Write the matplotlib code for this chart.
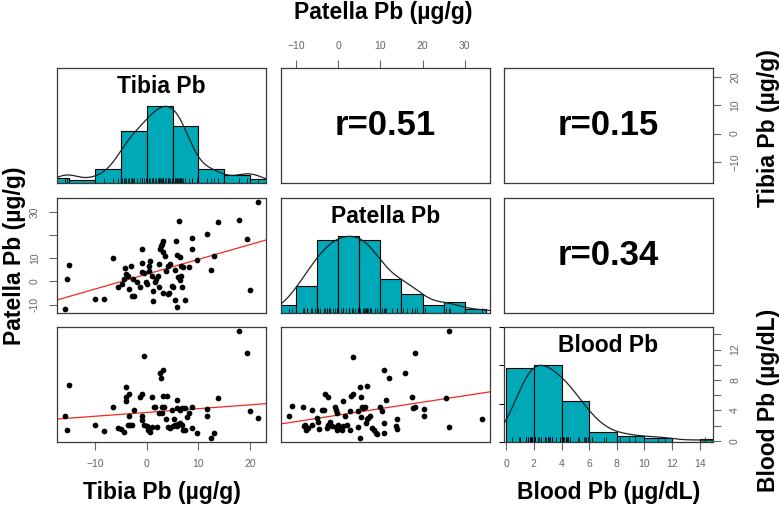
import numpy as np
import matplotlib
matplotlib.use("Agg")
import matplotlib.pyplot as plt

plt.rcParams['font.family'] = ['Liberation Sans', 'DejaVu Sans']

# ---------------- data ----------------
# Tibia vs Patella scatter (row 2, col 1)
tibia_tp = [-15.9, -15.5, -15.0, -10.1, -8.3, -6.5, -5.5, -4.8, -4.5, -4.2, -4.0, -3.7, -3.1, -3.4,
            -2.8, -2.4, -2.7, -1.9, -1.4, -1.0, -1.0, -1.0, -0.6, -0.1, 0.1, 0.4, 0.5, 0.6, 1.0, 1.2,
            1.2, 1.5, 1.8, 2.1, 2.3, 2.4, 2.5, 2.7, 2.9, 3.1, 3.2, 3.5, 3.2, 3.7, 4.1, 4.2, 4.3, 4.5,
            4.8, 5.0, 5.4, 5.5, 5.7, 5.8, 5.9, 6.3, 6.5, 6.1, 6.5, 6.6, 6.8, 6.6, 7.0, 7.5, 8.1, 8.8,
            8.8, 9.7, 11.6, 12.5, 13.1, 13.8, 17.8, 19.5, 20.0, 21.6]
patella_tp = [-11.8, 1.0, 7.1, -7.4, -7.4, 10.0, -2.6, -0.9, 1.0, 5.8, 3.2, 2.5, 6.6, -3.2,
              -6.2, -6.5, 1.0, -0.1, -2.3, 14.0, 7.8, 3.9, 3.5, -0.4, -1.2, 4.6, 6.5, 8.7, 2.5, -4.3,
              -8.4, -0.4, 1.0, 2.5, 7.5, -2.6, 14.0, 15.4, 16.2, 17.6, 12.8, 11.1, -4.8, 4.6, -5.5, 6.8,
              -4.8, 7.5, -1.9, -2.6, -8.1, 4.9, 17.6, 11.4, -11.0, 26.3, 10.4, 1.7, 0.6, 2.5, -2.2, 6.8,
              6.1, -8.1, 6.3, 18.6, 13.9, 9.2, 20.5, 5.1, 10.8, 25.5, 26.6, 18.3, -3.5, 34.2]

# Tibia vs Blood scatter (row 3, col 1)
tibia_tb = [-15.9, -15.5, -15.0, -10.1, -8.3, -6.5, -5.5, -5.0, -4.5, -4.1, -4.0, -4.0, -3.5, -3.4,
            -3.7, -3.2, -2.9, -2.4, -1.4, -1.0, -1.0, -0.6, -1.0, -0.5, 0.0, 0.3, 0.6, 1.0, 1.0, 1.3,
            1.6, 1.9, 2.3, 2.6, 2.8, 3.1, 2.9, 2.9, 3.2, 3.4, 3.9, 3.7, 4.2, 4.5, 4.8, 5.0, 5.3, 5.5,
            5.8, 5.8, 5.9, 6.1, 6.5, 6.5, 6.8, 6.8, 7.1, 7.4, 7.5, 7.7, 8.1, 8.7, 8.7, 9.7, 11.6, 11.6,
            12.5, 13.1, 13.8, 17.8, 19.5, 20.0, 21.6]
blood_tb = [3.3, 1.4, 7.3, 2.1, 1.3, 4.5, 1.7, 1.5, 1.2, 5.2, 5.7, 7.1, 3.3, 6.2,
            2.1, 2.1, 2.1, 4.1, 5.7, 6.1, 3.2, 11.1, 2.7, 2.1, 1.9, 1.4, 1.2, 5.7, 1.8, 4.5,
            4.4, 1.8, 3.6, 8.9, 8.2, 9.3, 4.4, 3.6, 5.9, 4.5, 5.9, 2.8, 1.8, 1.7, 4.1, 1.9, 2.8, 2.1,
            5.3, 4.3, 1.9, 2.2, 4.1, 2.3, 4.3, 2.1, 1.4, 4.3, 1.4, 3.1, 3.6, 4.4, 1.7, 1.0, 4.2, 3.3,
            0.4, 1.0, 5.6, 14.4, 11.5, 3.9, 3.0]

# Patella vs Blood scatter (row 3, col 2)
patella_pb = [-11.8, -11.0, -8.4, -7.9, -8.1, -7.6, -7.3, -6.3, -6.3, -5.1, -4.9, -4.5, -3.9, -3.5,
              -3.2, -2.4, -2.8, -2.4, -2.0, -1.6, -0.8, -0.6, -0.4, -0.6, -0.4, 0.0, 0.4, 0.8, 1.0, 1.2,
              1.6, 2.0, 2.8, 2.8, 3.0, 3.5, 3.5, 4.6, 4.7, 5.1, 5.3, 5.5, 5.3, 5.1, 5.9, 6.3, 6.5, 6.7,
              6.9, 7.1, 7.5, 7.9, 8.4, 8.9, 9.2, 9.9, 10.3, 10.9, 11.4, 12.1, 10.9, 10.9, 14.0, 13.8, 14.0, 15.8,
              17.6, 17.7, 18.1, 18.3, 20.3, 20.3, 25.5, 26.2, 26.4, 34.1]
blood_pb = [3.3, 4.6, 4.4, 2.1, 1.9, 1.4, 1.7, 4.1, 2.1, 3.0, 2.5, 1.6, 4.1, 4.1,
            6.2, 5.7, 1.7, 2.1, 2.5, 1.9, 4.4, 4.1, 3.6, 1.8, 1.4, 2.1, 1.7, 1.4, 5.2, 2.0,
            3.2, 2.1, 3.9, 1.4, 5.9, 6.2, 11.0, 3.9, 1.8, 7.1, 5.8, 4.5, 3.1, 0.4, 4.3, 4.5, 2.3, 2.8,
            7.2, 3.0, 3.2, 1.7, 1.4, 1.0, 0.9, 4.5, 3.9, 9.3, 5.3, 8.2, 2.4, 1.0, 2.8, 1.9, 1.6, 8.9,
            5.8, 4.3, 4.5, 11.5, 4.2, 3.3, 5.6, 1.8, 14.4, 2.9]

# Histogram bins and counts
tibia_bins = [-20, -15, -10, -5, 0, 5, 10, 15, 20, 25]
tibia_counts = [2, 1, 5, 19, 28, 21, 5, 3, 1.5]
patella_bins = [-15, -10, -5, 0, 5, 10, 15, 20, 25, 30, 35]
patella_counts = [2, 7, 19, 20, 19, 9, 5, 2, 3, 1]
blood_bins = [0, 2, 4, 6, 8, 10, 12, 14, 16]
blood_counts = [29, 30, 16, 4, 2.3, 1.6, 0, 1]

# Correlation labels
r_tibia_patella = "r=0.51"
r_tibia_blood = "r=0.15"
r_patella_blood = "r=0.34"

# Axis ticks
tibia_ticks = [-10, 0, 10, 20]
patella_ticks = [-10, 0, 10, 20, 30]
patella_left_labels = ["-10", "0", "10", "", "30"]
blood_ticks = [0, 2, 4, 6, 8, 10, 12, 14]
blood_right_labels = ["0", "", "4", "", "8", "", "12", ""]

# ---------------- styling ----------------
TEAL = "#00A9B7"
SPINE = "#3a3a3a"
TICKC = "#666666"
W, H = 780, 507

fig = plt.figure(figsize=(W / 100, H / 100), dpi=100)

col_left = [57, 281, 504]
row_top = [68, 198, 327]
pw, ph = 209, 115


def make_ax(row, col):
    l, t = col_left[col], row_top[row]
    ax = fig.add_axes([l / W, 1 - (t + ph) / H, pw / W, ph / H])
    for s in ax.spines.values():
        s.set_color(SPINE)
        s.set_linewidth(0.9)
    ax.tick_params(left=False, bottom=False, labelleft=False, labelbottom=False)
    return ax


def lim(*arrs):
    v = np.concatenate([np.asarray(a, float) for a in arrs])
    r = v.max() - v.min()
    return (v.min() - 0.04 * r, v.max() + 0.04 * r)


tib_lim = lim(tibia_tp, tibia_tb)
pat_lim = lim(patella_tp, patella_pb)
bld_lim = lim(blood_tb, blood_pb)

tick_kw = dict(length=5.8, width=0.8, color=TICKC, labelcolor=TICKC, labelsize=7.5, pad=6.5)


def hist_panel(ax, bins, counts, values, xl, title, adjust=1.0):
    bins = np.asarray(bins, float)
    c = np.asarray(counts, float)
    ax.bar(bins[:-1], c / c.max(), width=np.diff(bins), align='edge', color=TEAL,
           edgecolor='black', linewidth=0.8, zorder=2)
    x = np.asarray(values, float)
    q75, q25 = np.percentile(x, [75, 25])
    bw = adjust * 0.9 * min(x.std(ddof=1), (q75 - q25) / 1.34) * len(x) ** -0.2
    grid = np.linspace(x.min() - 3 * bw, x.max() + 3 * bw, 512)
    dens = np.exp(-0.5 * ((grid[:, None] - x[None, :]) / bw) ** 2).sum(axis=1)
    ax.plot(grid, dens / dens.max(), color='#222222', lw=0.9, zorder=3)
    ax.vlines(x, 0, 0.065, color='black', lw=0.5, zorder=4)
    ax.set_xlim(xl)
    ax.set_ylim(0, 1.5)
    ax.text(0.5, 0.84, title, transform=ax.transAxes, ha='center', va='center',
            fontsize=16.5, fontweight='bold')


def scatter_panel(ax, x, y, xl, yl):
    x = np.asarray(x, float)
    y = np.asarray(y, float)
    ax.scatter(x, y, s=17, color='black', linewidths=0, zorder=3)
    slope, inter = np.polyfit(x, y, 1)
    xx = np.array(xl)
    ax.plot(xx, inter + slope * xx, color='#F02A20', lw=0.9, zorder=2)
    ax.set_xlim(xl)
    ax.set_ylim(yl)


def text_panel(ax, label, xl, yl):
    ax.set_xlim(xl)
    ax.set_ylim(yl)
    ax.text(0.5, 0.5, label, transform=ax.transAxes, ha='center', va='center',
            fontsize=25, fontweight='bold')


# Row 1
a11 = make_ax(0, 0)
hist_panel(a11, tibia_bins, tibia_counts, tibia_tp, tib_lim, "Tibia Pb", adjust=1.1)
a12 = make_ax(0, 1)
text_panel(a12, r_tibia_patella, pat_lim, tib_lim)
a12.xaxis.set_ticks_position('top')
a12.set_xticks(patella_ticks)
a12.tick_params(axis='x', top=True, labeltop=True, **tick_kw)
a13 = make_ax(0, 2)
text_panel(a13, r_tibia_blood, bld_lim, tib_lim)
a13.yaxis.set_ticks_position('right')
a13.set_yticks(tibia_ticks)
a13.tick_params(axis='y', right=True, labelright=True, labelrotation=90, **tick_kw)
for t in a13.get_yticklabels():
    t.set_va('center')

# Row 2
a21 = make_ax(1, 0)
scatter_panel(a21, tibia_tp, patella_tp, tib_lim, pat_lim)
a21.set_yticks(patella_ticks)
a21.set_yticklabels(patella_left_labels)
a21.tick_params(axis='y', left=True, labelleft=True, labelrotation=90, **tick_kw)
for t in a21.get_yticklabels():
    t.set_va('center')
a22 = make_ax(1, 1)
hist_panel(a22, patella_bins, patella_counts, patella_tp, pat_lim, "Patella Pb")
a23 = make_ax(1, 2)
text_panel(a23, r_patella_blood, bld_lim, pat_lim)

# Row 3
a31 = make_ax(2, 0)
scatter_panel(a31, tibia_tb, blood_tb, tib_lim, bld_lim)
a31.set_xticks(tibia_ticks)
a31.tick_params(axis='x', bottom=True, labelbottom=True, **tick_kw)
a32 = make_ax(2, 1)
scatter_panel(a32, patella_pb, blood_pb, pat_lim, bld_lim)
a33 = make_ax(2, 2)
hist_panel(a33, blood_bins, blood_counts, blood_pb, bld_lim, "Blood Pb", adjust=1.6)
a33.set_xticks(blood_ticks)
a33.tick_params(axis='x', bottom=True, labelbottom=True, **tick_kw)
a33r = a33.twinx()
a33r.set_ylim(bld_lim)
for s in a33r.spines.values():
    s.set_visible(False)
a33r.set_yticks(blood_ticks)
a33r.set_yticklabels(blood_right_labels)
a33r.tick_params(axis='y', right=True, labelright=True, labelrotation=90, **tick_kw)
for t in a33r.get_yticklabels():
    t.set_va('center')

# Outer labels
lab_kw = dict(fontsize=16.5, fontweight='bold', ha='center', va='center')
fig.text(383 / W, 1 - 13 / H, "Patella Pb (µg/g)", **lab_kw)
fig.text(15 / W, 1 - 256 / H, "Patella Pb (µg/g)", rotation=90, **lab_kw)
fig.text(768 / W, 1 - 128 / H, "Tibia Pb (µg/g)", rotation=90, **lab_kw)
fig.text(768 / W, 1 - 400 / H, "Blood Pb (µg/dL)", rotation=90, **lab_kw)
fig.text(162 / W, 1 - 492 / H, "Tibia Pb (µg/g)", **lab_kw)
fig.text(609 / W, 1 - 492 / H, "Blood Pb (µg/dL)", **lab_kw)

fig.savefig("out.png", dpi=100)
